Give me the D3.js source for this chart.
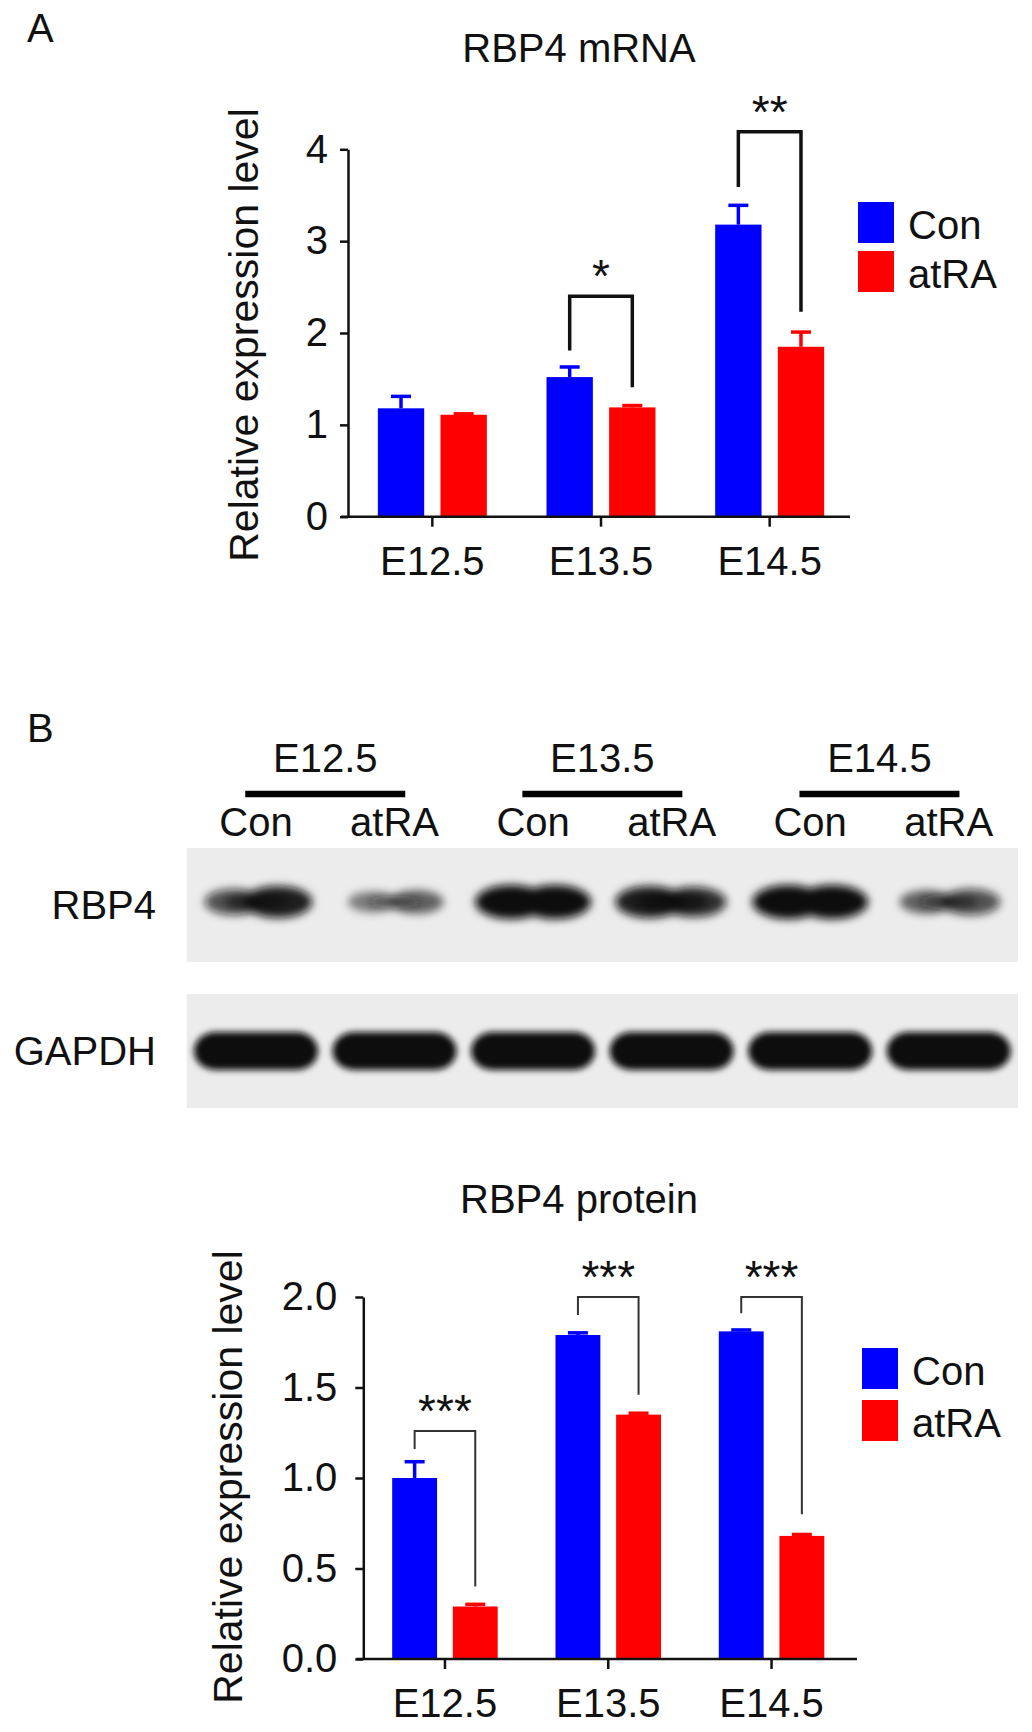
<!DOCTYPE html>
<html><head><meta charset="utf-8">
<script src="https://cdn.jsdelivr.net/npm/d3@7"></script>
<style>
body{margin:0;background:#fff}
svg{display:block}
text{font-family:"Liberation Sans",Arial,Helvetica,sans-serif;fill:#111}
</style>
</head><body>
<svg id="fig" width="1032" height="1732"></svg>
<script>
// ---------- data ----------
const stages = ["E12.5", "E13.5", "E14.5"];
const groups = ["Con", "atRA"];
const colors = ["#0000ff", "#ff0000"];

// Panel A: RBP4 mRNA
const mrnaCon = [1.18, 1.52, 3.18];
const mrnaConErr = [0.13, 0.11, 0.21];
const mrnaAtra = [1.11, 1.19, 1.85];
const mrnaAtraErr = [0.01, 0.02, 0.16];
const mrnaTicks = [0, 1, 2, 3, 4];
const mrnaSig = [null, "*", "**"];
const mrnaBracketTop = [null, 2.40, 4.19];
const mrnaBracketLegCon = [null, 1.81, 3.59];
const mrnaBracketLegAtra = [null, 1.41, 2.23];

// Panel B: RBP4 protein
const protCon = [1.00, 1.79, 1.81];
const protConErr = [0.09, 0.012, 0.008];
const protAtra = [0.29, 1.35, 0.68];
const protAtraErr = [0.012, 0.008, 0.008];
const protTicks = [0, 0.5, 1.0, 1.5, 2.0];
const protSig = ["***", "***", "***"];
const protBracketTop = [1.26, 2.0, 2.0];
const protBracketLegCon = [1.16, 1.90, 1.91];
const protBracketLegAtra = [0.40, 1.46, 0.80];

// Western blot (band density estimates per lane, left/right lobe)
const blotRows = ["RBP4", "GAPDH"];
const rbp4LobeL = [0.60, 0.30, 1.00, 0.90, 1.00, 0.45];
const rbp4LobeR = [0.90, 0.45, 1.00, 0.80, 1.00, 0.60];
const gapdhDensity = [1.00, 1.00, 1.00, 1.00, 1.00, 1.00];

// ---------- drawing ----------
const svg = d3.select("#fig");
const FONT = 40;

svg.append("text").attr("x", 27).attr("y", 42).attr("font-size", FONT).text("A");
svg.append("text").attr("x", 27).attr("y", 742).attr("font-size", FONT).text("B");

const defs = svg.append("defs");
defs.append("filter").attr("id", "blur").attr("x", "-50%").attr("y", "-50%").attr("width", "200%").attr("height", "200%")
  .append("feGaussianBlur").attr("stdDeviation", 4.5);
defs.append("filter").attr("id", "blur2").attr("x", "-50%").attr("y", "-50%").attr("width", "200%").attr("height", "200%")
  .append("feGaussianBlur").attr("stdDeviation", 3);

function barChart(cfg) {
  const g = svg.append("g");
  const x = d3.scaleBand().domain(stages).range([cfg.left, cfg.right]).paddingInner(0.25).paddingOuter(0.125);
  const xs = d3.scaleBand().domain(groups).range([0, x.bandwidth()]).paddingInner(0.26).paddingOuter(0.14);
  const y = d3.scaleLinear().domain([0, d3.max(cfg.ticks)]).range([cfg.bottom, cfg.top]);

  g.append("text").attr("x", cfg.titleX).attr("y", cfg.titleY).attr("text-anchor", "middle")
    .attr("font-size", FONT).text(cfg.title);

  g.append("text").attr("transform", `translate(${cfg.ylabX},${cfg.ylabY}) rotate(-90)`)
    .attr("text-anchor", "middle").attr("font-size", 41).text("Relative expression level");

  const series = [
    {vals: cfg.con, errs: cfg.conErr},
    {vals: cfg.atra, errs: cfg.atraErr}
  ];
  const rows = [];
  stages.forEach((s, i) => groups.forEach((gr, j) => rows.push({
    stage: s, group: gr, j, v: series[j].vals[i], e: series[j].errs[i]
  })));

  const eb = g.append("g");
  rows.forEach(d => {
    const cx = x(d.stage) + xs(d.group) + xs.bandwidth() / 2;
    eb.append("line").attr("x1", cx).attr("x2", cx).attr("y1", y(d.v)).attr("y2", y(d.v + d.e))
      .attr("stroke", colors[d.j]).attr("stroke-width", 3.5);
    eb.append("line").attr("x1", cx - 10).attr("x2", cx + 10).attr("y1", y(d.v + d.e)).attr("y2", y(d.v + d.e))
      .attr("stroke", colors[d.j]).attr("stroke-width", 3.5);
  });

  g.append("g").selectAll("rect").data(rows).join("rect")
    .attr("x", d => x(d.stage) + xs(d.group))
    .attr("width", xs.bandwidth())
    .attr("y", d => y(d.v))
    .attr("height", d => y(0) - y(d.v))
    .attr("fill", d => colors[d.j]);

  const yAxis = g.append("g").attr("transform", `translate(${cfg.left},0)`)
    .call(d3.axisLeft(y).tickValues(cfg.ticks).tickFormat(d3.format(cfg.fmt)).tickSize(8).tickSizeOuter(0).tickPadding(cfg.yPad));
  yAxis.selectAll("text").attr("font-size", FONT).attr("fill", "#111").style("font-family", '"Liberation Sans",Arial,sans-serif');
  yAxis.selectAll("path,line").attr("stroke", "#111").attr("stroke-width", 2.5);

  const xAxis = g.append("g").attr("transform", `translate(0,${cfg.bottom})`)
    .call(d3.axisBottom(x).tickSize(10).tickSizeOuter(0).tickPadding(20));
  xAxis.select(".domain").attr("d", `M${cfg.left - 7},0H${cfg.axisEnd}`);
  xAxis.selectAll("text").attr("font-size", FONT).attr("fill", "#111").style("font-family", '"Liberation Sans",Arial,sans-serif');
  xAxis.selectAll("path,line").attr("stroke", "#111").attr("stroke-width", 2.5);

  stages.forEach((s, i) => {
    if (!cfg.sig[i]) return;
    const xl = x(s) + xs("Con") + xs.bandwidth() / 2;
    const xr = x(s) + xs("atRA") + xs.bandwidth() / 2;
    const yt = y(cfg.bTop[i]);
    g.append("path")
      .attr("d", `M${xl},${y(cfg.bCon[i])}V${yt}H${xr}V${y(cfg.bAtra[i])}`)
      .attr("fill", "none").attr("stroke", cfg.bColor).attr("stroke-width", cfg.bWidth);
    g.append("text").attr("x", (xl + xr) / 2).attr("y", yt - cfg.starGap)
      .attr("text-anchor", "middle").attr("font-size", 46).attr("fill", "#555")
      .text(cfg.sig[i]);
  });

  const lg = g.append("g");
  groups.forEach((gr, j) => {
    lg.append("rect").attr("x", cfg.legX).attr("y", cfg.legY + j * cfg.legStep)
      .attr("width", 36).attr("height", 41).attr("fill", colors[j]);
    lg.append("text").attr("x", cfg.legX + 50).attr("y", cfg.legY + j * cfg.legStep + 37)
      .attr("font-size", FONT).text(gr);
  });
}

barChart({
  title: "RBP4 mRNA", titleX: 579, titleY: 62,
  left: 348, right: 854, axisEnd: 850, bottom: 516.7, top: 149.3,
  ticks: mrnaTicks, fmt: "d", yPad: 12,
  con: mrnaCon, conErr: mrnaConErr, atra: mrnaAtra, atraErr: mrnaAtraErr,
  sig: mrnaSig, bTop: mrnaBracketTop, bCon: mrnaBracketLegCon, bAtra: mrnaBracketLegAtra,
  bColor: "#111", bWidth: 3.5, starGap: 4,
  ylabX: 258, ylabY: 335,
  legX: 858, legY: 202, legStep: 49
});

barChart({
  title: "RBP4 protein", titleX: 579, titleY: 1213,
  left: 363.3, right: 853.2, axisEnd: 857, bottom: 1659, top: 1297,
  ticks: protTicks, fmt: ".1f", yPad: 18,
  con: protCon, conErr: protConErr, atra: protAtra, atraErr: protAtraErr,
  sig: protSig, bTop: protBracketTop, bCon: protBracketLegCon, bAtra: protBracketLegAtra,
  bColor: "#333", bWidth: 2, starGap: 4,
  ylabX: 241.7, ylabY: 1477,
  legX: 862, legY: 1348, legStep: 52
});

// ---------- western blot ----------
const lanes = [];
stages.forEach(s => groups.forEach(gr => lanes.push(s + "|" + gr)));
const lx = d3.scaleBand().domain(lanes).range([186.7, 1018]);
const rowY = d3.scaleBand().domain(blotRows).range([848, 1108]).paddingInner(0.22);
const blot = svg.append("g");

stages.forEach(s => {
  const c = (lx(s + "|Con") + lx(s + "|atRA") + lx.bandwidth()) / 2;
  blot.append("text").attr("x", c).attr("y", 772).attr("text-anchor", "middle").attr("font-size", FONT).text(s);
  blot.append("line").attr("x1", c - 80).attr("x2", c + 80).attr("y1", 794).attr("y2", 794)
    .attr("stroke", "#000").attr("stroke-width", 6.5);
});
lanes.forEach(l => {
  blot.append("text").attr("x", lx(l) + lx.bandwidth() / 2).attr("y", 836)
    .attr("text-anchor", "middle").attr("font-size", FONT).text(l.split("|")[1]);
});

blotRows.forEach(r => {
  blot.append("rect").attr("x", 186.7).attr("y", rowY(r)).attr("width", 1018 - 186.7).attr("height", rowY.bandwidth())
    .attr("fill", "#ececec");
  blot.append("text").attr("x", 156).attr("y", rowY(r) + rowY.bandwidth() / 2 + 14)
    .attr("text-anchor", "end").attr("font-size", FONT).text(r);
});

// RBP4 bands (two lobes per lane)
const rb = blot.append("g").attr("filter", "url(#blur)");
lanes.forEach((l, i) => {
  const cx = lx(l) + lx.bandwidth() / 2;
  const cy = rowY("RBP4") + rowY.bandwidth() / 2 - 3;
  const L = rbp4LobeL[i], R = rbp4LobeR[i];
  [[-22, L], [22, R]].forEach(([dx, dns]) => {
    rb.append("ellipse").attr("cx", cx + dx).attr("cy", cy)
      .attr("rx", 36 * (0.55 + 0.45 * dns))
      .attr("ry", 17 * (0.45 + 0.55 * dns))
      .attr("fill", "#0a0a0a").attr("opacity", 0.25 + 0.75 * dns);
  });
  const m = Math.min(L, R);
  rb.append("ellipse").attr("cx", cx).attr("cy", cy)
    .attr("rx", 40 * (0.5 + 0.5 * m)).attr("ry", 12 * (0.4 + 0.6 * m))
    .attr("fill", "#0a0a0a").attr("opacity", 0.15 + 0.8 * m);
});

// GAPDH bands (single broad band per lane)
const gb = blot.append("g").attr("filter", "url(#blur2)");
lanes.forEach((l, i) => {
  const cx = lx(l) + lx.bandwidth() / 2;
  const cy = rowY("GAPDH") + rowY.bandwidth() / 2;
  gb.append("rect").attr("x", cx - 62).attr("y", cy - 19).attr("width", 124).attr("height", 38)
    .attr("rx", 22).attr("ry", 19)
    .attr("fill", "#0a0a0a").attr("opacity", gapdhDensity[i]);
});
</script>
</body></html>
